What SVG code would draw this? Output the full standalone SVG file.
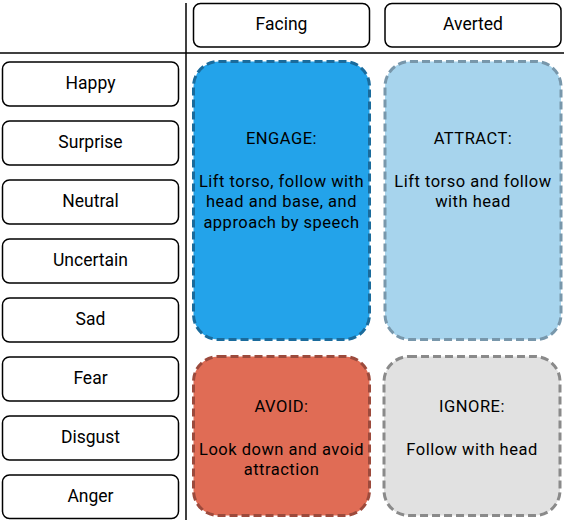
<svg xmlns="http://www.w3.org/2000/svg" width="564" height="520" viewBox="0 0 564 520">
<style>
.lbl{fill:#fff;stroke:#000;stroke-width:1.5}
.lt{font-family:Roboto,"Liberation Sans",sans-serif;font-size:17.5px;fill:#000;text-anchor:middle}
.ct{font-family:Roboto,"Liberation Sans",sans-serif;font-size:16.5px;letter-spacing:0.5px;fill:#000;text-anchor:middle}
.cell{stroke-width:3;stroke-dasharray:8 4}
.axis{stroke:#000;stroke-width:1.5}
</style>
<rect width="564" height="520" fill="#fff"/>
<g id="axes">
<line class="axis" x1="186" y1="3" x2="186" y2="520"/>
<line class="axis" x1="0" y1="53" x2="564" y2="53"/>
</g>
<g id="facing"><rect class="lbl" x="193.5" y="3.5" width="176" height="43.5" rx="7"/><text class="lt" x="281.5" y="30">Facing</text></g>
<g id="averted"><rect class="lbl" x="385" y="3.5" width="176" height="43.5" rx="7"/><text class="lt" x="473" y="30">Averted</text></g>
<g id="happy"><rect class="lbl" x="2.5" y="62" width="176" height="44" rx="7"/><text class="lt" x="90.5" y="89.3">Happy</text></g>
<g id="surprise"><rect class="lbl" x="2.5" y="121" width="176" height="44" rx="7"/><text class="lt" x="90.5" y="148.3">Surprise</text></g>
<g id="neutral"><rect class="lbl" x="2.5" y="180" width="176" height="44" rx="7"/><text class="lt" x="90.5" y="207.3">Neutral</text></g>
<g id="uncertain"><rect class="lbl" x="2.5" y="239" width="176" height="44" rx="7"/><text class="lt" x="90.5" y="266.3">Uncertain</text></g>
<g id="sad"><rect class="lbl" x="2.5" y="298" width="176" height="44" rx="7"/><text class="lt" x="90.5" y="325.3">Sad</text></g>
<g id="fear"><rect class="lbl" x="2.5" y="357" width="176" height="44" rx="7"/><text class="lt" x="90.5" y="384.3">Fear</text></g>
<g id="disgust"><rect class="lbl" x="2.5" y="416" width="176" height="44" rx="7"/><text class="lt" x="90.5" y="443.3">Disgust</text></g>
<g id="anger"><rect class="lbl" x="2.5" y="475" width="176" height="43.5" rx="7"/><text class="lt" x="90.5" y="502.3">Anger</text></g>
<g id="engage"><rect class="cell" x="193.5" y="61.5" width="176" height="278" rx="25" fill="#23a3ea" stroke="#1a6b9c"/>
<text class="ct" x="281.5" y="144">ENGAGE:</text>
<text class="ct" x="281.5" y="186.5">Lift torso, follow with</text>
<text class="ct" x="281.5" y="207">head and base, and</text>
<text class="ct" x="281.5" y="227.5">approach by speech</text></g>
<g id="attract"><rect class="cell" x="385" y="61.5" width="176" height="278" rx="25" fill="#a7d4ed" stroke="#7897ab"/>
<text class="ct" x="473" y="144">ATTRACT:</text>
<text class="ct" x="473" y="186.5">Lift torso and follow</text>
<text class="ct" x="473" y="207">with head</text></g>
<g id="avoid"><rect class="cell" x="193.5" y="356.5" width="176" height="159" rx="25" fill="#e06c55" stroke="#9c4a3c"/>
<text class="ct" x="281.5" y="412">AVOID:</text>
<text class="ct" x="281.5" y="454.5">Look down and avoid</text>
<text class="ct" x="281.5" y="475">attraction</text></g>
<g id="ignore"><rect class="cell" x="384" y="356.5" width="176" height="159" rx="25" fill="#e1e1e1" stroke="#8a8a8a"/>
<text class="ct" x="472" y="412">IGNORE:</text>
<text class="ct" x="472" y="454.5">Follow with head</text></g>
</svg>
